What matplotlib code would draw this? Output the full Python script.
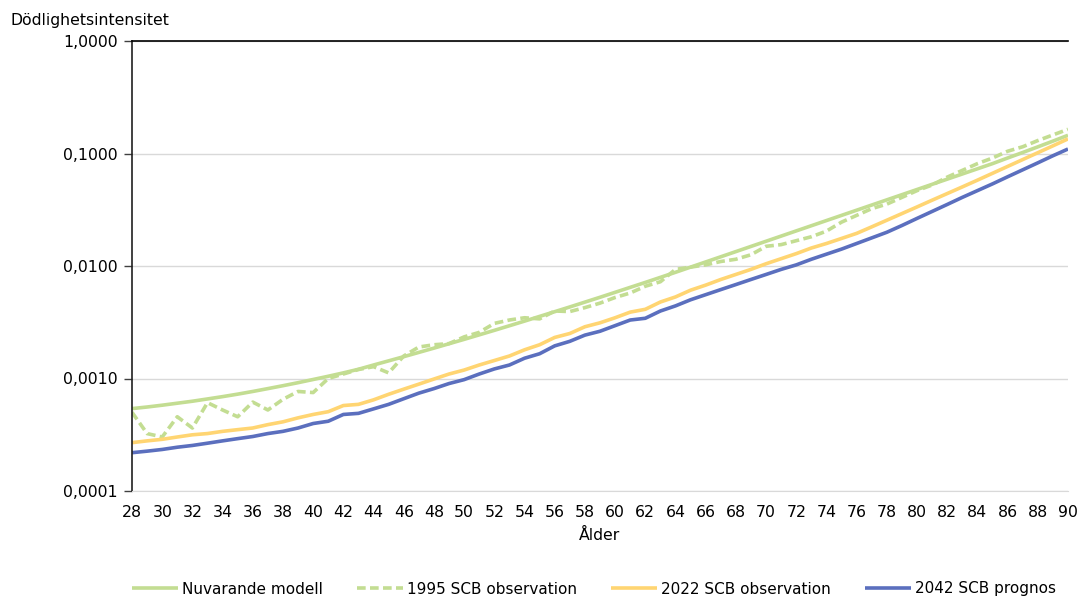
import matplotlib
matplotlib.use("Agg")
import matplotlib.pyplot as plt
from matplotlib.ticker import FixedLocator, NullLocator

ages = list(range(28, 91))

nuvarande_modell = [
    0.000540, 0.000558, 0.000579, 0.000603, 0.000628, 0.000658, 0.000690, 0.000726,
    0.000767, 0.000813, 0.000863, 0.000918, 0.000980, 0.001047, 0.001122, 0.001208,
    0.001318, 0.001435, 0.001563, 0.001706, 0.001862, 0.002037, 0.002228, 0.002443,
    0.002679, 0.002944, 0.003236, 0.003565, 0.003926, 0.004325, 0.004775, 0.005272,
    0.005834, 0.006457, 0.007145, 0.007925, 0.008790, 0.009772, 0.010864, 0.012078,
    0.013428, 0.014928, 0.016596, 0.018450, 0.020512, 0.022803, 0.025351, 0.028184,
    0.031333, 0.034834, 0.038726, 0.043053, 0.047863, 0.053211, 0.059156, 0.065766,
    0.073114, 0.081283, 0.091201, 0.102093, 0.114551, 0.128825, 0.145211,
]

scb_1995_obs = [
    0.000501, 0.000324, 0.000302, 0.000457, 0.000363, 0.000610, 0.000525, 0.000457,
    0.000617, 0.000525, 0.000653, 0.000767, 0.000750, 0.001000, 0.001096, 0.001202,
    0.001274, 0.001122, 0.001585, 0.001905, 0.001995, 0.002042, 0.002344, 0.002570,
    0.003090, 0.003311, 0.003467, 0.003388, 0.003981, 0.003936, 0.004266, 0.004677,
    0.005248, 0.005754, 0.006607, 0.007244, 0.009333, 0.009772, 0.010233, 0.010965,
    0.011482, 0.012589, 0.014962, 0.015488, 0.016788, 0.018197, 0.020417, 0.024547,
    0.028184, 0.032359, 0.035481, 0.040738, 0.046774, 0.052481, 0.061660, 0.070795,
    0.081283, 0.091201, 0.104713, 0.114815, 0.130317, 0.146218, 0.164059,
]

scb_2022_obs = [
    0.000269, 0.000279, 0.000288, 0.000302, 0.000316, 0.000324, 0.000339, 0.000351,
    0.000363, 0.000389, 0.000412, 0.000447, 0.000479, 0.000507, 0.000575, 0.000589,
    0.000646, 0.000724, 0.000804, 0.000891, 0.000989, 0.001096, 0.001189, 0.001318,
    0.001445, 0.001585, 0.001799, 0.001995, 0.002317, 0.002512, 0.002884, 0.003126,
    0.003467, 0.003890, 0.004121, 0.004786, 0.005309, 0.006095, 0.006761, 0.007586,
    0.008414, 0.009333, 0.010471, 0.011614, 0.012882, 0.014454, 0.015849, 0.017579,
    0.019498, 0.022284, 0.025527, 0.029242, 0.033497, 0.038459, 0.044055, 0.050466,
    0.057943, 0.066681, 0.076736, 0.088308, 0.101625, 0.116950, 0.134896,
]

scb_2042_prognos = [
    0.000219, 0.000226, 0.000234, 0.000245, 0.000254, 0.000266, 0.000279, 0.000292,
    0.000305, 0.000324, 0.000339, 0.000363, 0.000398, 0.000417, 0.000479, 0.000490,
    0.000537, 0.000589, 0.000661, 0.000741, 0.000813, 0.000902, 0.000977, 0.001096,
    0.001216, 0.001318, 0.001514, 0.001660, 0.001950, 0.002140, 0.002430, 0.002630,
    0.002950, 0.003310, 0.003430, 0.003980, 0.004420, 0.005010, 0.005560, 0.006170,
    0.006840, 0.007590, 0.008410, 0.009330, 0.010230, 0.011480, 0.012740, 0.014130,
    0.015850, 0.017780, 0.019950, 0.022910, 0.026490, 0.030550, 0.035240, 0.040740,
    0.046770, 0.053700, 0.062090, 0.071610, 0.082600, 0.095500, 0.109650,
]

series_labels = ["Nuvarande modell", "1995 SCB observation",
                 "2022 SCB observation", "2042 SCB prognos"]
y_ticks = [0.0001, 0.001, 0.01, 0.1, 1.0]
y_tick_labels = ["0,0001", "0,0010", "0,0100", "0,1000", "1,0000"]
x_ticks = list(range(28, 91, 2))

plt.rcParams['font.family'] = ['DejaVu Sans']
fig = plt.figure(figsize=(10.88, 5.98), dpi=100)
ax = fig.add_axes([132 / 1088, 1 - 491 / 598, (1068 - 132) / 1088, (491 - 41) / 598])

green = "#C3DD92"
yellow = "#FFD572"
blue = "#5B6FBE"
lw = 2.6

ax.plot(ages, nuvarande_modell, color=green, lw=lw, label=series_labels[0],
        solid_capstyle="butt")
ax.plot(ages, scb_1995_obs, color=green, lw=lw, ls=(0, (2.4, 1.2)),
        label=series_labels[1], dash_capstyle="butt")
ax.plot(ages, scb_2022_obs, color=yellow, lw=lw, label=series_labels[2],
        solid_capstyle="butt")
ax.plot(ages, scb_2042_prognos, color=blue, lw=lw, label=series_labels[3],
        solid_capstyle="butt")

ax.set_yscale("log")
ax.set_ylim(0.0001, 1.0)
ax.set_xlim(28, 90)
ax.yaxis.set_major_locator(FixedLocator(y_ticks))
ax.yaxis.set_minor_locator(NullLocator())
ax.set_yticklabels(y_tick_labels)
ax.set_xticks(x_ticks)
ax.set_xticklabels([str(t) for t in x_ticks])
ax.tick_params(axis="y", length=6, width=1, color="#404040", labelsize=11.3,
               pad=4, labelcolor="#000000")
ax.tick_params(axis="x", length=0, labelsize=11.3, pad=10, labelcolor="#000000")

ax.grid(axis="y", which="major", color="#D9D9D9", lw=1)
ax.set_axisbelow(True)
ax.spines["right"].set_visible(False)
ax.spines["bottom"].set_color("#D9D9D9")
ax.spines["left"].set_color("#202020")
ax.spines["top"].set_color("#000000")
ax.spines["left"].set_linewidth(1.2)
ax.spines["top"].set_linewidth(1.2)

ax.set_xlabel("Ålder", fontsize=11.3, labelpad=6)
fig.text(10 / 1088, 1 - 21 / 598, "Dödlighetsintensitet", fontsize=11.3,
         ha="left", va="center")

leg = fig.legend(loc="center left", bbox_to_anchor=(132 / 1088, 1 - 589 / 598),
                 ncol=4, frameon=False, fontsize=11, handlelength=3.0,
                 handletextpad=0.3, columnspacing=2.2, borderpad=0,
                 borderaxespad=0)

fig.savefig("out.png", dpi=100)
